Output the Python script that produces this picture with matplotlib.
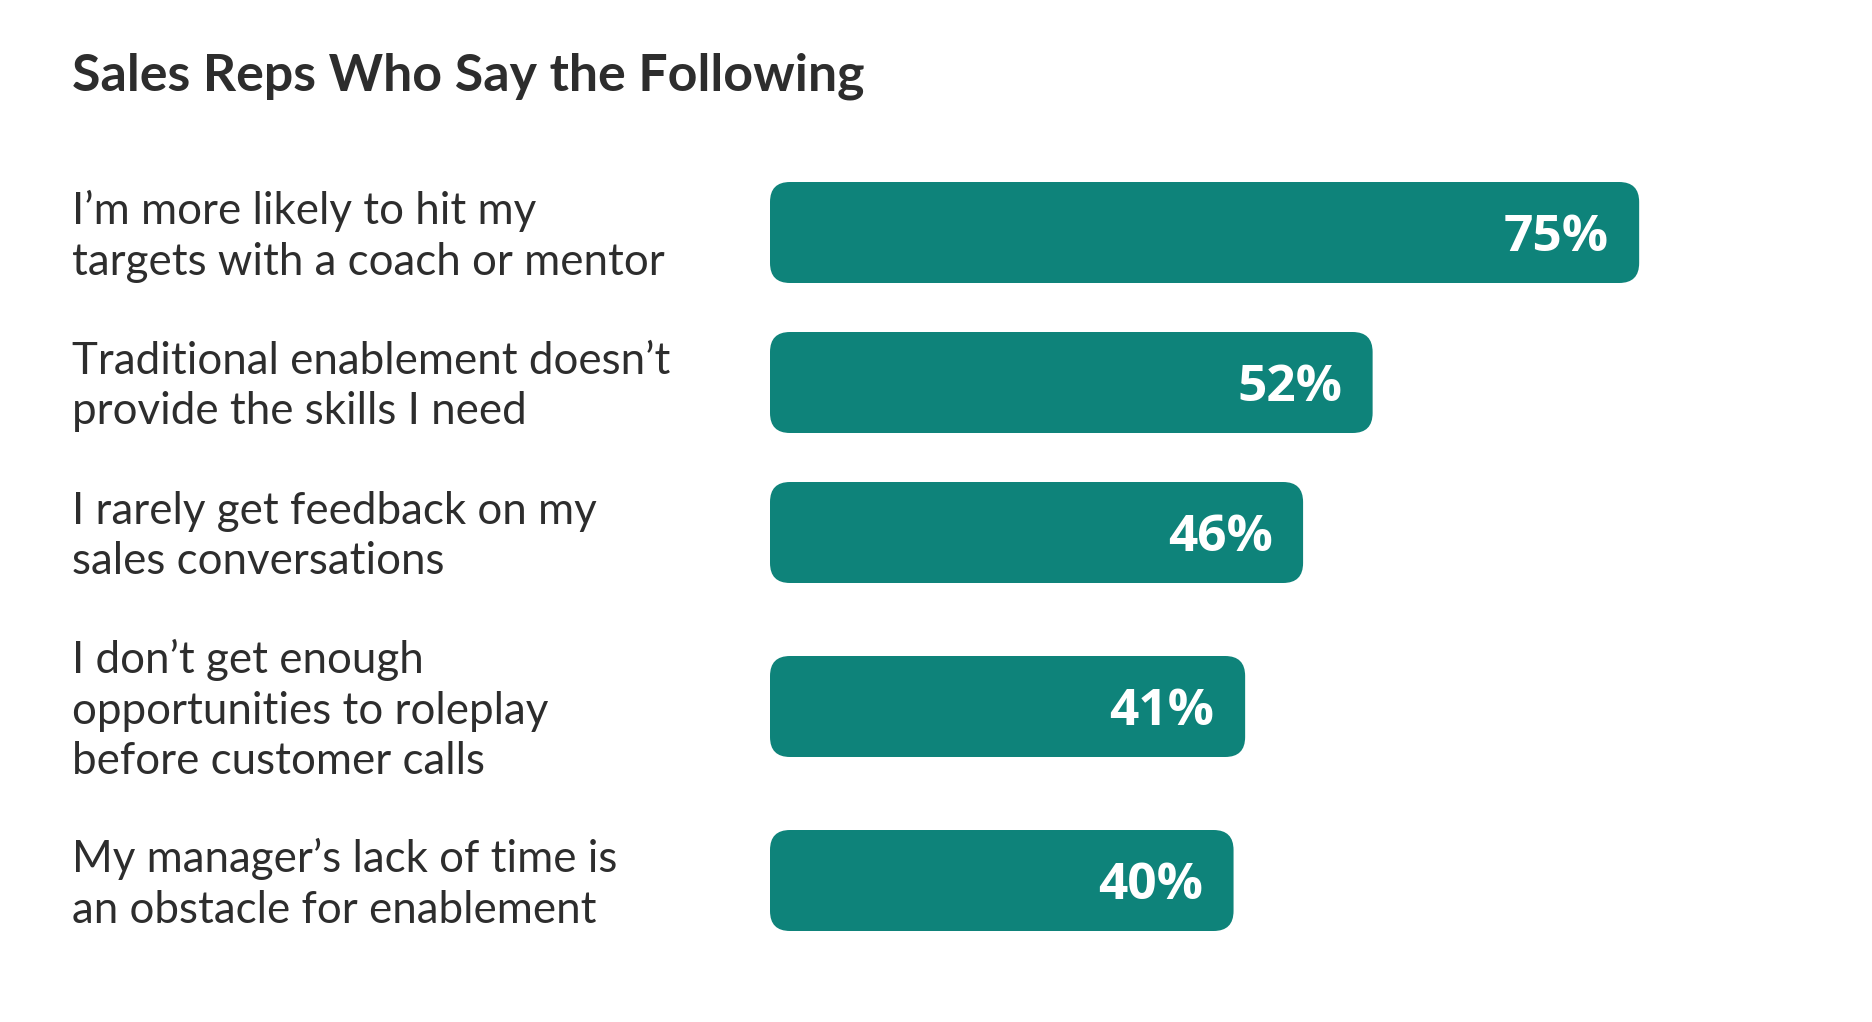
import matplotlib
matplotlib.use("Agg")
import matplotlib.pyplot as plt
from matplotlib.patches import FancyBboxPatch
from matplotlib import transforms

# data
title = "Sales Reps Who Say the Following"
statements = [
    "I’m more likely to hit my\ntargets with a coach or mentor",
    "Traditional enablement doesn’t\nprovide the skills I need",
    "I rarely get feedback on my\nsales conversations",
    "I don’t get enough\nopportunities to roleplay\nbefore customer calls",
    "My manager’s lack of time is\nan obstacle for enablement",
]
shares = [75, 52, 46, 41, 40]
value_labels = ["75%", "52%", "46%", "41%", "40%"]

TEAL = "#0e837a"
INK = "#2d2d2d"

W, H, DPI = 1872, 1022, 100
fig = plt.figure(figsize=(W / DPI, H / DPI), dpi=DPI)
fig.patch.set_facecolor("white")

# row centres (pixels below the first row), gap grows with label line count
n_lines = [s.count("\n") + 1 for s in statements]
centres = [0.0]
for a, b in zip(n_lines[:-1], n_lines[1:]):
    centres.append(centres[-1] + 54 + 24 * (a + b))

first_row = 232.5
ax = fig.add_axes([770 / W, 0, 1043 / W, 1])
ax.set_xlim(0, 90)
ax.set_ylim(H - first_row, -first_row)
ax.axis("off")

bars = ax.barh(centres, shares, height=101, color=TEAL)

# swap the plain bars for rounded ones
px_x = ax.transData.transform((1, 0))[0] - ax.transData.transform((0, 0))[0]
px_y = abs(ax.transData.transform((0, 1))[1] - ax.transData.transform((0, 0))[1])
radius = 20
for b in bars:
    x0, y0, w, h = b.get_x(), b.get_y(), b.get_width(), b.get_height()
    b.remove()
    ax.add_patch(FancyBboxPatch((x0, y0), w, h,
                                boxstyle=f"round,pad=0,rounding_size={radius / px_x}",
                                mutation_aspect=px_x / px_y,
                                fc=TEAL, ec="none"))

for y, v, lab in zip(centres, shares, value_labels):
    ax.annotate(lab, (v, y), xytext=(-22, -4), textcoords="offset points",
                ha="right", va="center", color="white", fontsize=37,
                fontweight="bold", family="Open Sans")

# labels sit at the left edge of the figure, a touch below the bar centre
label_tf = transforms.blended_transform_factory(fig.transFigure, ax.transData)
label_tf = label_tf + transforms.ScaledTranslation(0, -3 / 72, fig.dpi_scale_trans)
for y, s in zip(centres, statements):
    fig.text(72 / W, y, s, transform=label_tf, ha="left", va="center",
             fontsize=31.6, color=INK, family="Lato", linespacing=1.29)

fig.text(72 / W, 1 - 76 / H, title, ha="left", va="center",
         fontsize=37.4, fontweight="bold", color=INK, family="Lato")

fig.savefig("out.png", dpi=DPI, facecolor="white")
